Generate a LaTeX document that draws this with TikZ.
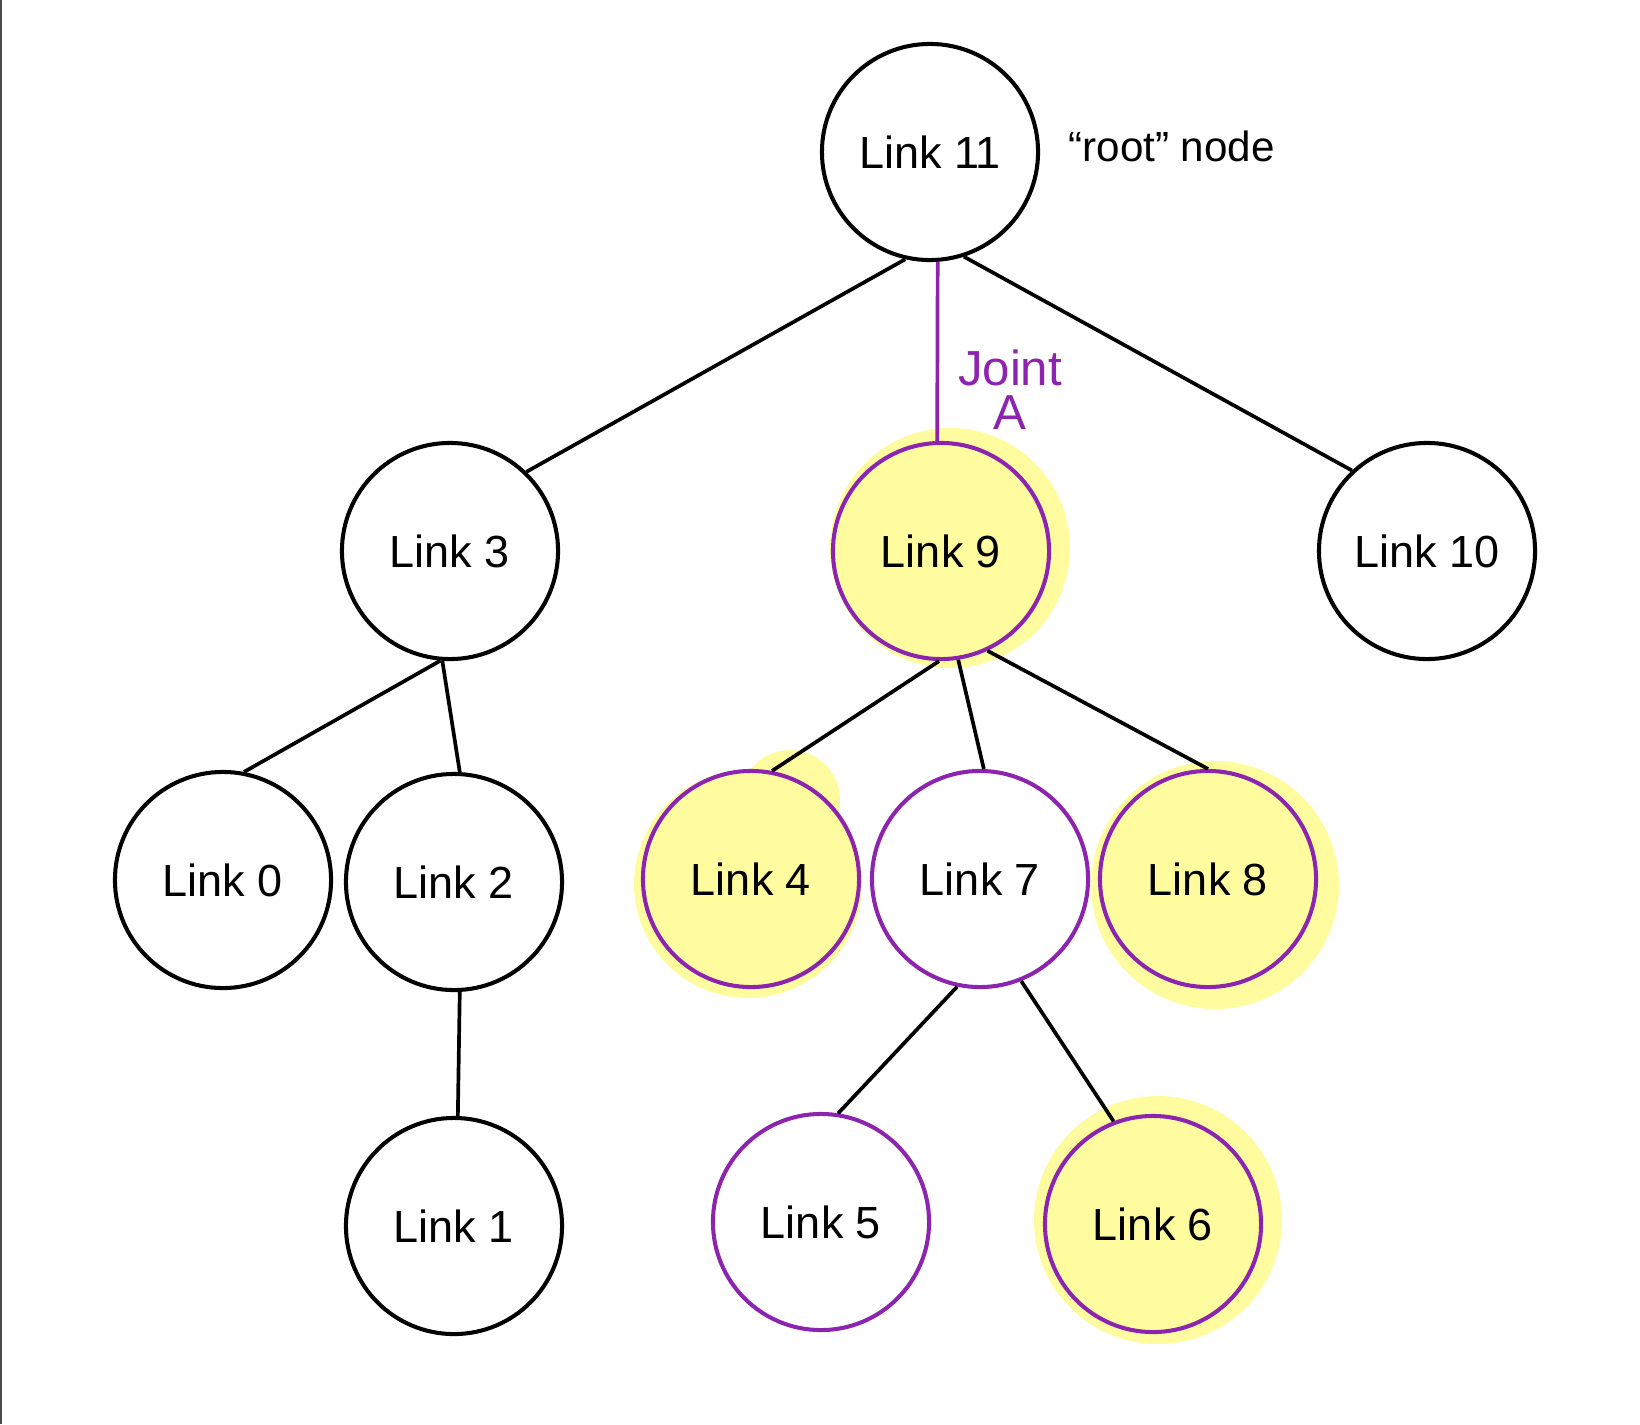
\documentclass[tikz,border=0pt]{standalone}
\usepackage{fontspec}
\newfontfamily\linkfont{Liberation Sans}
\definecolor{jointpurple}{RGB}{140,36,176}
\definecolor{hilite}{RGB}{255,252,160}
\definecolor{hilitedark}{RGB}{255,250,110}

\begin{document}
\begin{tikzpicture}[x=0.01cm, y=-0.01cm,
    link/.style={circle, draw, line width=1.15pt, minimum size=2.16cm, inner sep=0pt,
      font=\linkfont\fontsize{12.8pt}{15pt}\selectfont},
    joint/.style={link, draw=jointpurple},
    marked/.style={joint, fill=hilite},
    bar/.style={line width=1.05pt},
    blob/.style={fill=hilite, draw=none}]
  \useasboundingbox (0,0) rectangle (1640,1424);
  \draw[gray!60!black, line width=0.6pt] (1,0) -- (1,1424);

  % highlighter marks behind the marked links
  \fill[blob] (950,548) circle[radius=120];
  \fill[blob] (748,884) circle[radius=114];
  \fill[blob] (790,800) circle[radius=50];
  \fill[blob] (1215,885) circle[radius=124];
  \fill[hilitedark] (1286,855) circle[radius=30];
  \fill[blob] (1158,1220) circle[radius=124];

  % the links
  \node[link] (L11) at (930,152) {Link 11};
  \node[link] (L3) at (450,551) {Link 3};
  \node[marked] (L9) at (941,551) {Link 9};
  \node[link] (L10) at (1427,551) {Link 10};
  \node[link] (L0) at (223,880) {Link 0};
  \node[link] (L2) at (454,882) {Link 2};
  \node[link] (L1) at (454,1226) {Link 1};
  \node[marked] (L4) at (751,879) {Link 4};
  \node[joint] (L7) at (980,879) {Link 7};
  \node[marked] (L8) at (1208,879) {Link 8};
  \node[joint] (L5) at (821,1222) {Link 5};
  \node[marked] (L6) at (1153,1224) {Link 6};

  \node[anchor=west, font=\linkfont\fontsize{12pt}{14pt}\selectfont] (rootlbl) at (1056,146) {“root” node};

  % the joints
  \draw[bar] (L11.257) -- (L3.46);
  \draw[bar, draw=jointpurple] (L11.274) -- (L9.92);
  \draw[bar] (L11.288) -- (L10.133);
  \draw[bar] (L3.265) -- (L0.79);
  \draw[bar] (L3.266) -- (L2.87);
  \draw[bar] (L2.273) -- (L1.88);
  \draw[bar] (L9.269) -- (L4.79);
  \draw[bar] (L9.279) -- (L7.88);
  \draw[bar] (L9.295) -- (L8.90);
  \draw[bar] (L7.258) -- (L5.81);
  \draw[bar] (L7.292) -- (L6.111);

  \node[text=jointpurple, align=center, inner sep=0pt,
    font=\linkfont\fontsize{14pt}{12.5pt}\selectfont] (jointA) at (1010,390) {Joint\\A};
\end{tikzpicture}
\end{document}
